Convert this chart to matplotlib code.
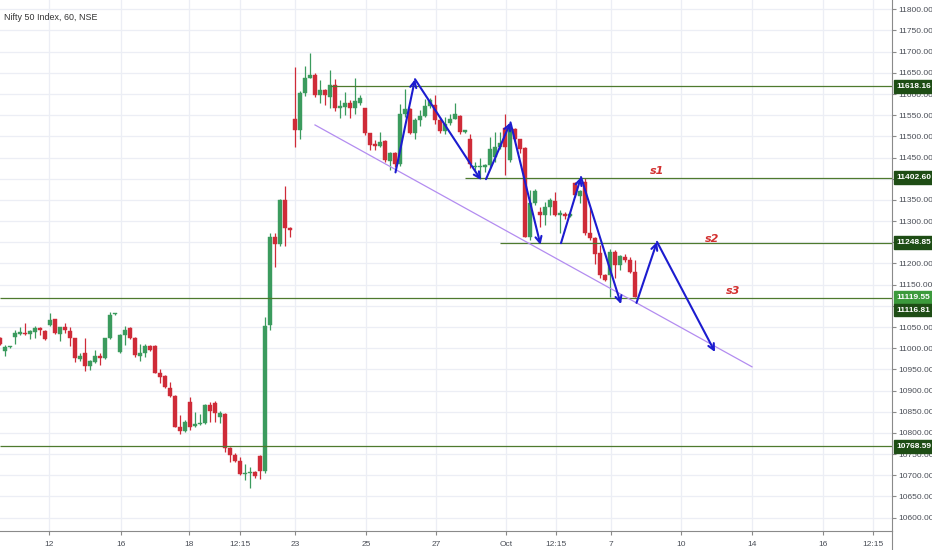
import matplotlib
matplotlib.use('Agg')
import matplotlib.pyplot as plt
import matplotlib.transforms as mtransforms
from matplotlib.ticker import FuncFormatter, MultipleLocator
import numpy as np

plt.rcParams['font.family'] = ['Liberation Sans', 'DejaVu Sans']

# Hourly candles (Nifty 50, 60 min)
opens = [11023, 10993, 11002, 11027, 11033, 11037, 11033, 11039, 11047, 11041,
         11055, 11068, 11033, 11049, 11041, 11023, 10974, 10989, 10958, 10968,
         10982, 10976, 11023, 11080, 10992, 11030, 11047, 11025, 10981, 10989,
         11005, 11005, 10941, 10934, 10907, 10887, 10813, 10805, 10874, 10816,
         10821, 10824, 10866, 10871, 10837, 10845, 10764, 10748, 10734, 10703,
         10705, 10708, 10745, 10711, 11055, 11263, 11246, 11350, 11283, 11542,
         11515, 11602, 11639, 11645, 11598, 11609, 11592, 11621, 11566, 11570,
         11578, 11566, 11580, 11566, 11507, 11482, 11477, 11489, 11442, 11460,
         11434, 11554, 11564, 11509, 11539, 11548, 11572, 11574, 11539, 11512,
         11531, 11542, 11548, 11511, 11493, 11428, 11427, 11428, 11432, 11451,
         11476, 11519, 11444, 11517, 11493, 11472, 11263, 11342, 11322, 11314,
         11334, 11348, 11314, 11317, 11313, 11389, 11359, 11393, 11273, 11259,
         11224, 11173, 11173, 11228, 11196, 11216, 11208, 11181]
highs = [11027, 11007, 11005, 11044, 11049, 11059, 11044, 11052, 11051, 11043,
         11084, 11070, 11051, 11059, 11049, 11024, 10988, 11025, 10972, 10996,
         10989, 11025, 11085, 11084, 11033, 11052, 11049, 11027, 11011, 11011,
         11007, 11007, 10950, 10937, 10921, 10889, 10842, 10830, 10885, 10850,
         10845, 10868, 10874, 10876, 10852, 10846, 10766, 10752, 10744, 10727,
         10719, 10711, 10747, 11074, 11271, 11273, 11352, 11383, 11285, 11665,
         11606, 11666, 11696, 11649, 11633, 11613, 11657, 11635, 11586, 11605,
         11586, 11637, 11598, 11568, 11509, 11491, 11511, 11491, 11464, 11462,
         11576, 11611, 11566, 11544, 11562, 11589, 11590, 11597, 11545, 11545,
         11552, 11578, 11550, 11516, 11505, 11440, 11448, 11436, 11499, 11511,
         11511, 11554, 11530, 11519, 11495, 11474, 11373, 11375, 11334, 11346,
         11354, 11369, 11326, 11322, 11318, 11392, 11374, 11401, 11330, 11262,
         11243, 11175, 11233, 11232, 11220, 11222, 11216, 11208]
lows = [11007, 10982, 11001, 11011, 11031, 11031, 11021, 11023, 11031, 11019,
        11052, 11033, 11018, 11037, 11005, 10968, 10970, 10947, 10948, 10964,
        10960, 10974, 11021, 11079, 10988, 11007, 11021, 10980, 10970, 10980,
        10994, 10941, 10917, 10907, 10885, 10813, 10797, 10803, 10807, 10813,
        10819, 10822, 10826, 10826, 10824, 10756, 10732, 10732, 10701, 10689,
        10671, 10693, 10690, 10705, 11043, 11192, 11241, 11241, 11263, 11476,
        11495, 11595, 11637, 11592, 11578, 11574, 11566, 11561, 11543, 11550,
        11543, 11554, 11574, 11503, 11468, 11468, 11474, 11440, 11421, 11427,
        11430, 11545, 11505, 11494, 11525, 11545, 11568, 11530, 11508, 11506,
        11528, 11540, 11506, 11509, 11425, 11421, 11400, 11417, 11425, 11440,
        11470, 11409, 11440, 11490, 11460, 11262, 11255, 11338, 11287, 11291,
        11314, 11312, 11273, 11306, 11310, 11358, 11342, 11267, 11255, 11198,
        11165, 11158, 11120, 11165, 11184, 11204, 11177, 11120]
closes = [11011, 11003, 11004, 11035, 11039, 11033, 11041, 11047, 11043, 11021,
          11067, 11035, 11049, 11043, 11023, 10976, 10982, 10958, 10970, 10981,
          10978, 11023, 11078, 11082, 11031, 11043, 11023, 10984, 10989, 11005,
          10996, 10942, 10933, 10909, 10887, 10815, 10805, 10826, 10815, 10822,
          10824, 10866, 10852, 10848, 10848, 10764, 10748, 10734, 10703, 10706,
          10707, 10698, 10711, 11052, 11263, 11246, 11350, 11283, 11279, 11515,
          11602, 11639, 11645, 11598, 11609, 11598, 11621, 11566, 11572, 11578,
          11566, 11584, 11590, 11507, 11480, 11477, 11487, 11444, 11460, 11434,
          11554, 11564, 11509, 11539, 11548, 11572, 11586, 11539, 11513, 11530,
          11542, 11554, 11511, 11514, 11436, 11431, 11430, 11432, 11470, 11476,
          11485, 11476, 11519, 11493, 11470, 11263, 11342, 11370, 11314, 11334,
          11351, 11314, 11320, 11312, 11316, 11362, 11372, 11273, 11259, 11222,
          11173, 11161, 11228, 11196, 11218, 11208, 11181, 11121]

# x axis labels (bar positions where they sit)
tick_pos = [9.8, 24.2, 37.8, 48, 59, 73.2, 87.2, 101.2, 111.2, 122.2, 136.2, 150.4, 164.6, 174.6]
tick_lbl = ['12', '16', '18', '12:15', '23', '25', '27', 'Oct', '12:15', '7', '10', '14', '16', '12:15']

# horizontal levels and the bar where each one starts
levels = [11618.16, 11402.60, 11248.85, 11119.55, 10768.59]
level_start = [66, 93, 100, 0, 0]
# price labels on the right axis
box_prices = ['11618.16', '11402.60', '11248.85', '11119.55', '11116.81', '10768.59']
box_y = [11618.16, 11402.60, 11248.85, 11119.55, 11090, 10768.59]
box_col = ['#1e4d15', '#1e4d15', '#1e4d15', '#3c9a3c', '#1e4d15', '#1e4d15']
# axis prices fully hidden behind the boxes
hidden_ticks = [11400, 11250, 11100]

# drawn zig-zag arrows (start bar, start price, end bar, end price)
arrows = [(79.1, 11415, 83.0, 11635),
          (83.0, 11635, 96.2, 11397),
          (97.2, 11399, 102.1, 11533),
          (102.1, 11533, 108.1, 11244),
          (112.2, 11248, 116.2, 11404),
          (116.2, 11404, 124.2, 11104),
          (127.3, 11107, 131.4, 11251),
          (131.4, 11251, 143.0, 10991)]

trend = [(63, 11527), (150.4, 10956)]
notes = [('s1', 131.4, 11418), ('s2', 142.4, 11258), ('s3', 146.6, 11135)]

up_col = '#3b9b5e'
dn_col = '#cf2b38'

fig = plt.figure(figsize=(9.32, 5.5), dpi=100)
ax = fig.add_axes([0, 19 / 550, 892 / 932, 531 / 550])

ax.set_xlim(0, 178.4)
ax.set_ylim(10568.4, 11822)

# grid
for t in tick_pos:
    ax.axvline(t, color='#eceef5', lw=0.9, zorder=0)
for p in np.arange(10600, 11801, 50):
    ax.axhline(p, color='#eceef5', lw=0.9, zorder=0)

# candles
x = np.arange(len(opens))
for i in x:
    o, h, l, c = opens[i], highs[i], lows[i], closes[i]
    col = up_col if c >= o else dn_col
    ax.vlines(i, l, h, color=col, lw=0.9, zorder=3)
    lo = min(o, c)
    ht = max(abs(c - o), 1.2)
    ax.bar(i, ht, bottom=lo, width=0.62, color=col, edgecolor=col, lw=0.3, zorder=4)

# levels
for p, s in zip(levels, level_start):
    ax.hlines(p, s, 178.4, color='#4e7a2e', lw=0.9, zorder=5)

# trend line
ax.plot([trend[0][0], trend[1][0]], [trend[0][1], trend[1][1]], color='#b38cf0', lw=0.9, zorder=5)

# arrows
for x0, y0, x1, y1 in arrows:
    ax.annotate('', xy=(x1, y1), xytext=(x0, y0),
                arrowprops=dict(arrowstyle='->', color='#1c1ccf', lw=1.5,
                                mutation_scale=11, shrinkA=0, shrinkB=0),
                zorder=6)

for s, nx, ny in notes:
    ax.text(nx, ny, s, color='#d3302f', fontsize=8, style='italic', fontweight='bold',
            ha='center', va='center', family=['DejaVu Sans'])

# title
ax.text(0.005, 0.975, 'Nifty 50 Index, 60, NSE', transform=ax.transAxes,
        fontsize=6.4, color='#333333', ha='left', va='top')


def price_fmt(v, p):
    if any(abs(v - h) < 1 for h in hidden_ticks):
        return ''
    return '%.2f' % v


# axes styling
for sp in ['top', 'left']:
    ax.spines[sp].set_visible(False)
ax.spines['right'].set_color('#8a8a8a')
ax.spines['bottom'].set_color('#8a8a8a')
ax.yaxis.tick_right()
ax.yaxis.set_major_locator(MultipleLocator(50))
ax.yaxis.set_major_formatter(FuncFormatter(price_fmt))
ax.tick_params(axis='y', labelsize=6, colors='#8a8a8a', labelcolor='#4a4e57', length=3, pad=1.5)
ax.set_xticks(tick_pos)
ax.set_xticklabels(tick_lbl)
ax.tick_params(axis='x', labelsize=6, colors='#8a8a8a', labelcolor='#4a4e57', length=3, pad=4)

# price boxes on the right axis
trans = mtransforms.blended_transform_factory(ax.transAxes, ax.transData)
for t, py, c in zip(box_prices, box_y, box_col):
    ax.text(1.0055, py, t, transform=trans, fontsize=6, fontweight='bold', color='white',
            ha='left', va='center', clip_on=False, zorder=10,
            bbox=dict(boxstyle='square,pad=0.35', fc=c, ec=c))

# right axis line continues to the bottom edge
fig.add_artist(plt.Line2D([892 / 932, 892 / 932], [0, 19 / 550], color='#8a8a8a', lw=0.8))

fig.savefig('out.png', dpi=100, facecolor='white')
